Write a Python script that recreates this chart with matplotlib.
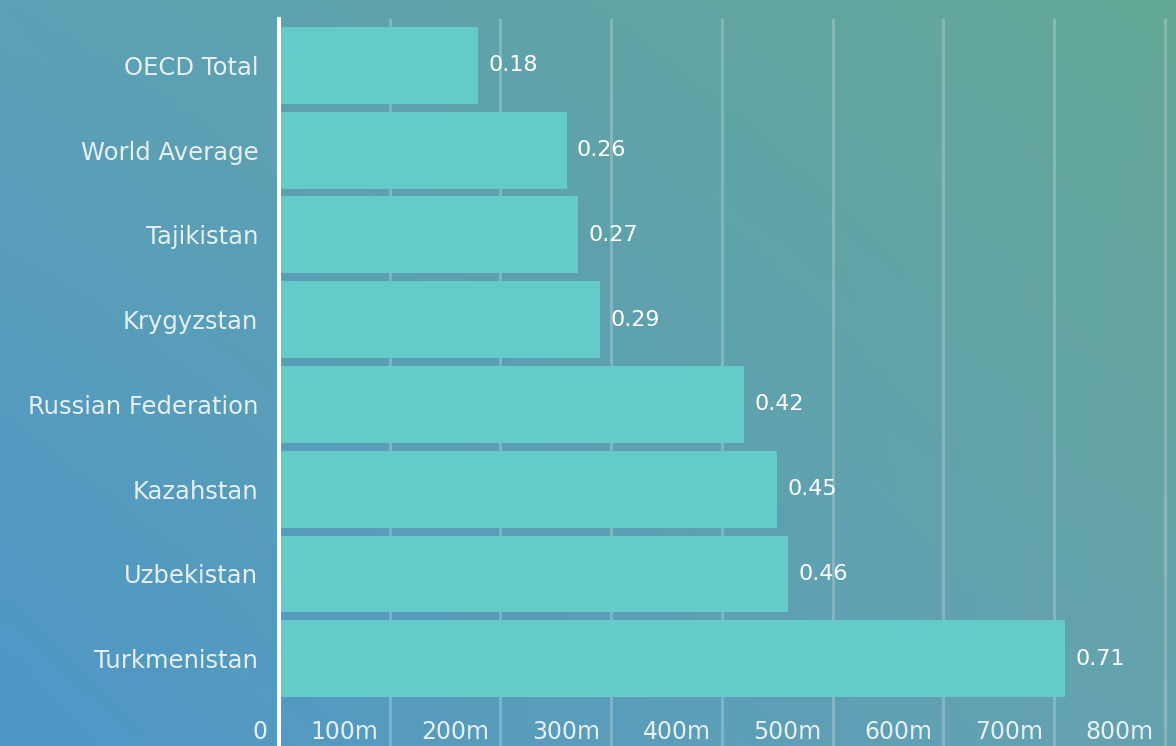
import numpy as np
import matplotlib
matplotlib.use('Agg')
import matplotlib.pyplot as plt
import matplotlib.transforms as mtransforms

countries = ['OECD Total', 'World Average', 'Tajikistan', 'Krygyzstan',
             'Russian Federation', 'Kazahstan', 'Uzbekistan', 'Turkmenistan']
values = [0.18, 0.26, 0.27, 0.29, 0.42, 0.45, 0.46, 0.71]
tick_vals = [0, 0.1, 0.2, 0.3, 0.4, 0.5, 0.6, 0.7, 0.8]
tick_labels = ['0', '100m', '200m', '300m', '400m', '500m', '600m', '700m', '800m']

plt.rcParams['font.family'] = ['DejaVu Sans']
txt_color = '#e6f0f0'
bar_color = '#64cbc8'
fs = 17.5

fig = plt.figure(figsize=(11.76, 7.46), dpi=100)

# gradient background
bg = fig.add_axes([0, 0, 1, 1])
tl = np.array([0x5d, 0xa0, 0xb6]) / 255
tr = np.array([0x64, 0xa8, 0x96]) / 255
bl = np.array([0x4e, 0x97, 0xc8]) / 255
br = np.array([0x66, 0xa3, 0xaf]) / 255
u = np.linspace(0, 1, 200)[None, :, None]
v = np.linspace(0, 1, 120)[:, None, None]
img = (1 - v) * ((1 - u) * tl + u * tr) + v * ((1 - u) * bl + u * br)
bg.imshow(img, aspect='auto', extent=[0, 1, 0, 1])
bg.axis('off')

ax = fig.add_axes([279 / 1176, 0, 1 - 279 / 1176, (746 - 19) / 746])
ax.patch.set_alpha(0)

y = np.arange(len(countries))
ax.barh(y, values, height=0.906, color=bar_color, zorder=3)
ax.set_xlim(0, 0.81)
ax.set_ylim(len(countries) - 1 + 1.03, -0.547)

ax.set_xticks(tick_vals[1:])
ax.xaxis.grid(True, color='white', alpha=0.22, linewidth=2.2, zorder=1)
ax.tick_params(axis='x', length=0, labelbottom=False)

ax.set_yticks(y)
ax.set_yticklabels(countries, color=txt_color, fontsize=fs)
ax.tick_params(axis='y', length=0, pad=15)

for s in ['top', 'right', 'bottom']:
    ax.spines[s].set_visible(False)
ax.spines['left'].set_color('white')
ax.spines['left'].set_linewidth(2.9)
ax.spines['left'].set_zorder(4)

# value labels
off = mtransforms.offset_copy(ax.transData, fig=fig, x=10, y=0, units='dots')
for i, val in enumerate(values):
    ax.text(val, i, f'{val:.2f}', transform=off, ha='left', va='center',
            color='white', fontsize=16)

# x tick labels drawn inside the plot area, right-aligned to gridlines
tr_x = mtransforms.offset_copy(ax.get_xaxis_transform(), fig=fig, x=-11, y=0, units='dots')
for tv, tlab in zip(tick_vals, tick_labels):
    ax.text(tv, 0.0193, tlab, transform=tr_x, ha='right', va='center',
            color=txt_color, fontsize=17)

fig.savefig('out.png', dpi=100)
